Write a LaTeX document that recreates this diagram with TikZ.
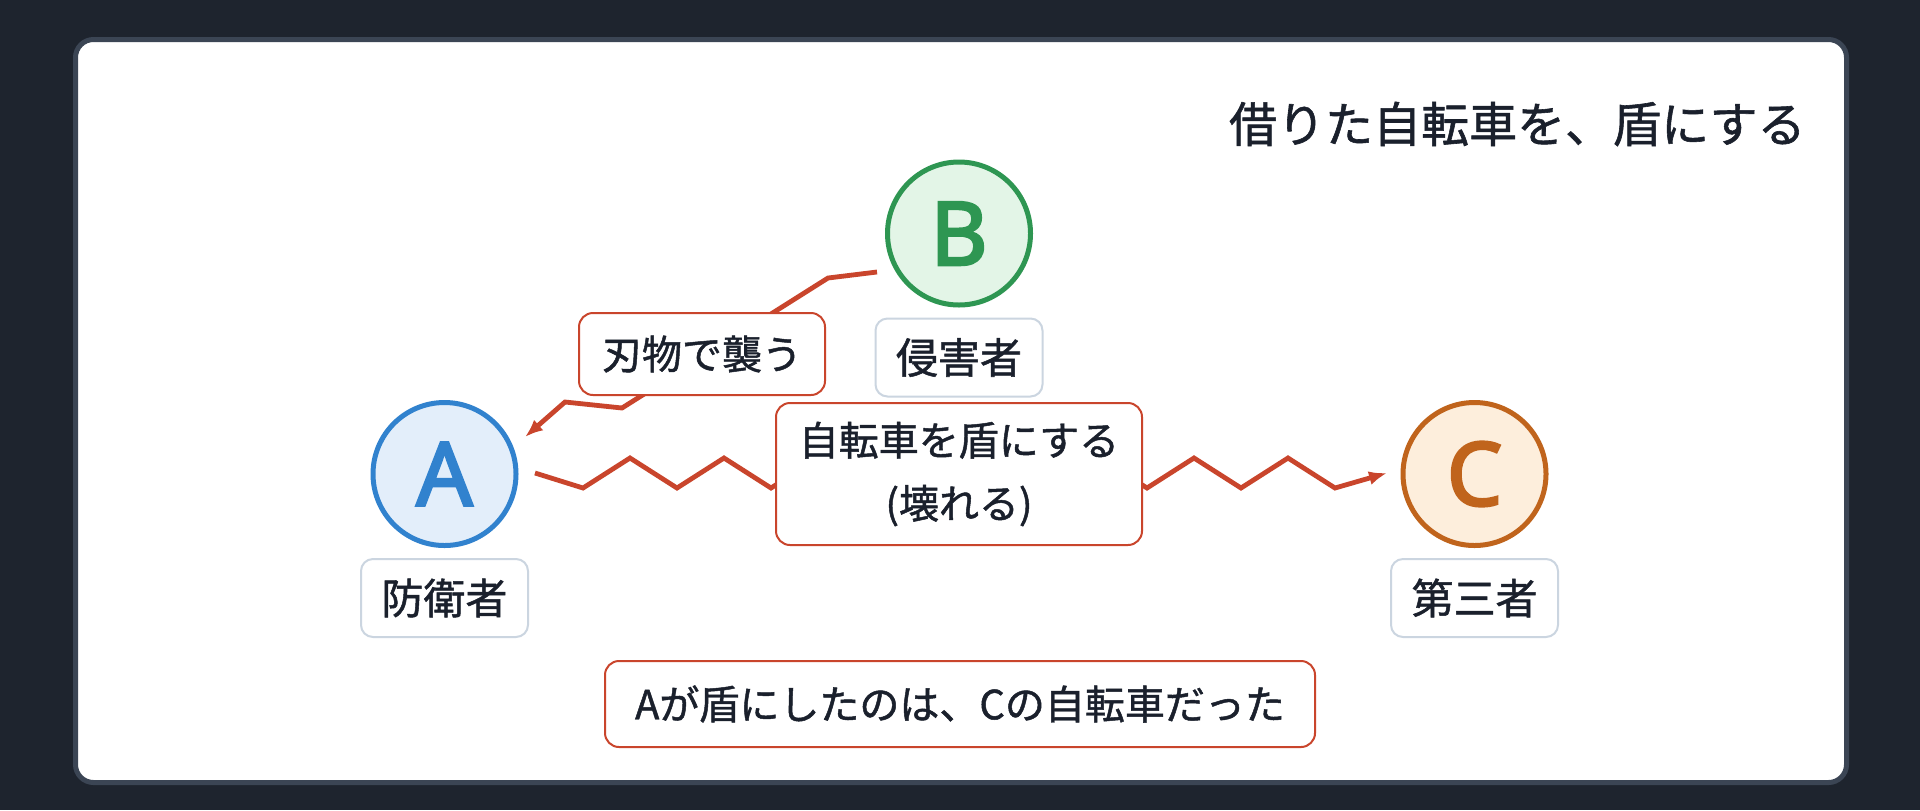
\documentclass[tikz,border=0pt]{standalone}
\usepackage{fontspec}
\setmainfont{Noto Sans CJK JP}[RawFeature={embolden=1.2}]
\newfontfamily\letterfont{Noto Sans}[RawFeature={embolden=3}]
\usepackage{xcolor}
\definecolor{colorBack}{HTML}{1E242E}
\definecolor{colorFrame}{HTML}{3B4554}
\definecolor{colorInk}{HTML}{1A202C}
\definecolor{colorAct}{HTML}{C9452C}
\definecolor{colorRole}{HTML}{CBD5E0}
\definecolor{colorA}{HTML}{3182CE}
\definecolor{colorAFill}{HTML}{E3EEFA}
\definecolor{colorB}{HTML}{2E9652}
\definecolor{colorBFill}{HTML}{E3F5E7}
\definecolor{colorC}{HTML}{C0641C}
\definecolor{colorCFill}{HTML}{FDEEDC}
\usetikzlibrary{arrows.meta, positioning, calc}
\tikzset{
  person/.style={circle, line width=2.5pt, minimum size=71.5pt, inner sep=0pt, font=\letterfont\fontsize{44}{44}\selectfont},
  role/.style={draw=colorRole, line width=1pt, fill=white, rounded corners=6pt, minimum width=83.5pt, minimum height=39pt, inner sep=0pt, text=colorInk, font=\fontsize{21}{21}\selectfont},
  event/.style={draw=colorAct, line width=1pt, fill=white, rounded corners=7pt, inner sep=0pt, text=colorInk, align=center, font=\fontsize{20}{31.5}\selectfont},
  strike/.style={draw=colorAct, line width=2.4pt, -{Latex[length=9pt,width=7pt]}},
}

\begin{document}
\begin{tikzpicture}[x=0.5pt, y=-0.5pt]
\useasboundingbox (0,0) rectangle (1920,810);
\fill[colorBack] (0,0) rectangle (1920,810);
\draw[colorFrame, line width=2.5pt, fill=white, rounded corners=9pt] (75.5,39.5) rectangle (1846.5,782.5);
\node[anchor=east, inner sep=0pt, text=colorInk, font=\fontsize{24}{24}\selectfont] (title) at (1806,124) {借りた自転車を、盾にする};
% the three people
\node[person, draw=colorA, fill=colorAFill, text=colorA] (A) at (444.5,474) {A};
\node[person, draw=colorB, fill=colorBFill, text=colorB] (B) at (959,233.5) {B};
\node[person, draw=colorC, fill=colorCFill, text=colorC] (C) at (1474.5,474) {C};
\node[role, below=5pt of A] (roleA) {防衛者};
\node[role, below=5pt of B] (roleB) {侵害者};
\node[role, below=5pt of C] (roleC) {第三者};
% attacks
\draw[strike] ($(B)+(-82,38.5)$) -- ++(-49,6) -- ++(-206,130) -- ++(-57,-6) -- ++(-40,35);
\draw[strike] ($(A)+(90.5,-1)$) -- ++(48,15) -- ++(47,-30) -- ++(47,30) -- ++(47,-30) -- ++(47,30) -- ++(47,-30) -- ++(47,30) -- ++(47,-30) -- ++(47,30) -- ++(47,-30) -- ++(47,30) -- ++(47,-30) -- ++(47,30) -- ++(47,-30) -- ++(47,30) -- ++(47,-30) -- ++(47,30) -- ++(52,-15);
% labels on the attacks
\node[event, minimum width=123pt, minimum height=41pt] (knife) at (702,354) {刃物で襲う};
\node[event, minimum width=183pt, minimum height=71pt] (shield) at (959,474) {自転車を盾にする\\(壊れる)};
\node[event, minimum width=355pt, minimum height=43pt] (note) at (960,704) {Aが盾にしたのは、Cの自転車だった};
\end{tikzpicture}
\end{document}
